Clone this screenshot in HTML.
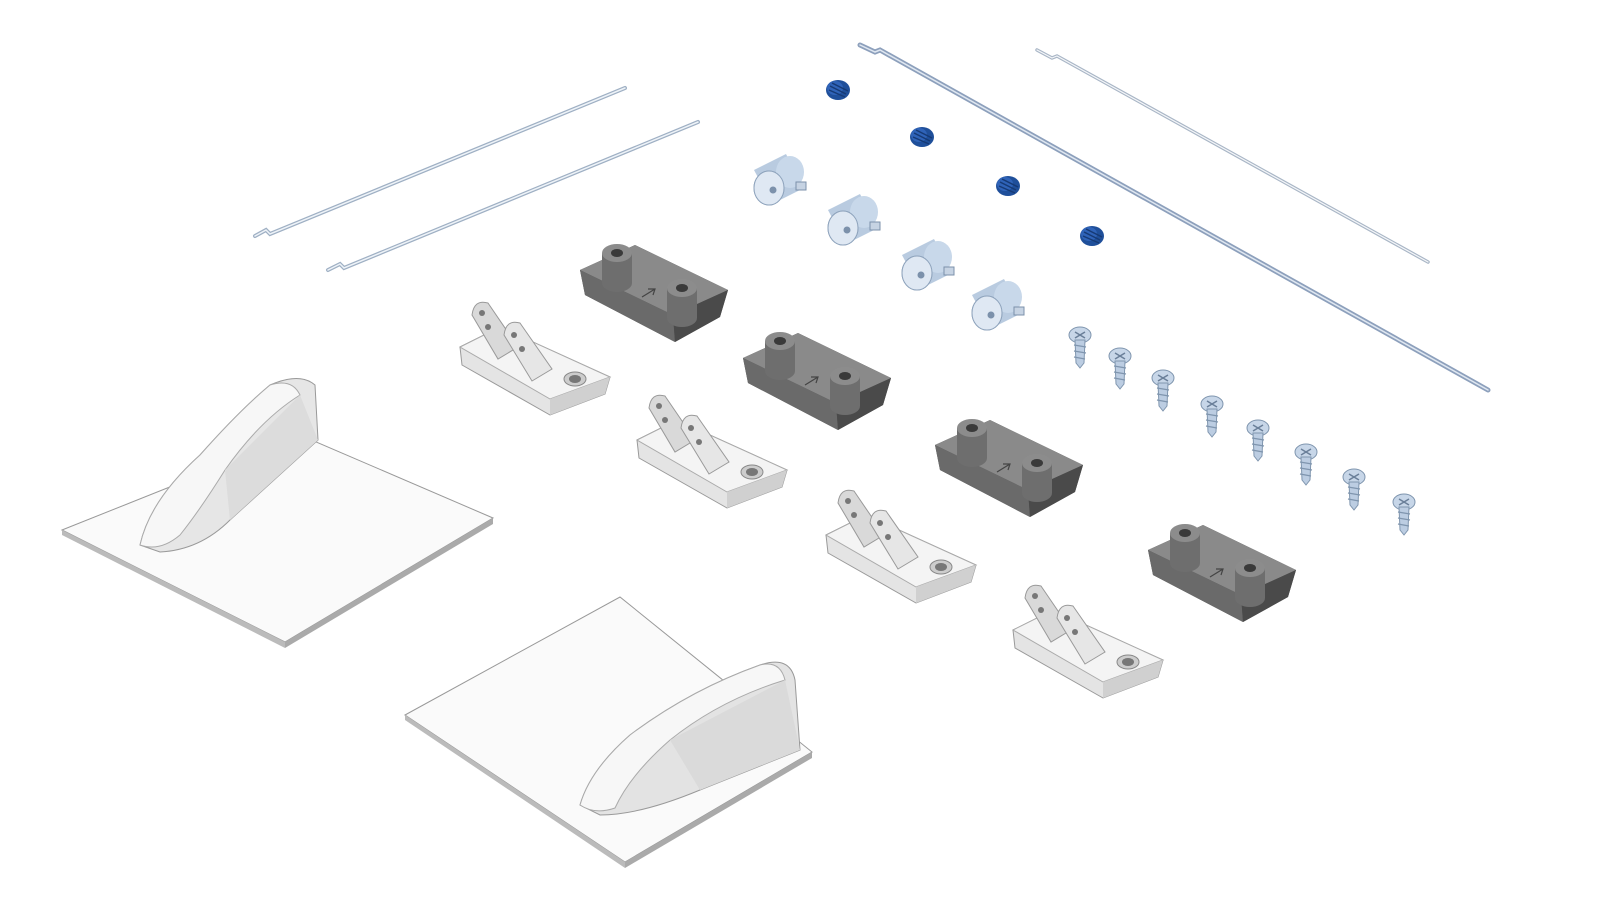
<!DOCTYPE html>
<html><head><meta charset="utf-8"><style>
html,body{margin:0;padding:0;background:#fff;}
svg{display:block}
</style></head><body>
<svg width="1600" height="900" viewBox="0 0 1600 900" xmlns="http://www.w3.org/2000/svg">
<defs>
<g id="setscrew">
  <ellipse cx="0" cy="0" rx="12" ry="10" fill="#1f4f9a"/>
  <ellipse cx="-3" cy="-2" rx="8" ry="7" fill="#2f63b8"/>
  <path d="M-8,-4 L8,4 M-9,0 L7,7 M-6,-7 L10,1" stroke="#163a75" stroke-width="1.5"/>
</g>
<g id="collar">
  <path d="M-24,-10 L8,-26 L26,8 L-6,24 Z" fill="#b9cbe0"/>
  <ellipse cx="-9" cy="8" rx="15" ry="17" fill="#d7e3f0" stroke="#8aa0ba" stroke-width="1"/>
  <ellipse cx="12" cy="-8" rx="14" ry="16" fill="#c8d8ea"/>
  <ellipse cx="-9" cy="8" rx="15" ry="17" fill="#dfe8f3" stroke="#8ea3bc" stroke-width="1"/>
  <circle cx="-5" cy="10" r="3.5" fill="#7c91ab"/>
  <rect x="18" y="2" width="10" height="8" fill="#c6d3e3" stroke="#7c91ab" stroke-width="1"/>
</g>
<g id="base">
  <path d="M0,25 L55,0 L148,45 L140,72 L95,97 L5,50 Z" fill="#555"/>
  <path d="M0,25 L55,0 L148,45 L93,70 Z" fill="#8a8a8a"/>
  <path d="M0,25 L93,70 L95,97 L5,50 Z" fill="#6a6a6a"/>
  <path d="M93,70 L148,45 L140,72 L95,97 Z" fill="#4a4a4a"/>
  <rect x="22" y="8" width="30" height="30" fill="#6e6e6e"/>
  <ellipse cx="37" cy="38" rx="15" ry="9" fill="#6e6e6e"/>
  <ellipse cx="37" cy="8" rx="15" ry="9" fill="#8c8c8c"/>
  <ellipse cx="37" cy="8" rx="6" ry="4" fill="#3a3a3a"/>
  <rect x="87" y="43" width="30" height="30" fill="#6e6e6e"/>
  <ellipse cx="102" cy="73" rx="15" ry="9" fill="#6e6e6e"/>
  <ellipse cx="102" cy="43" rx="15" ry="9" fill="#8c8c8c"/>
  <ellipse cx="102" cy="43" rx="6" ry="4" fill="#3a3a3a"/>
  <path d="M62,52 L75,44 M68,44 L75,44 L73,50" stroke="#444" stroke-width="1.2" fill="none"/>
</g>
<g id="horn">
  <path d="M0,50 L40,30 L150,80 L145,97 L90,118 L2,68 Z" fill="#e4e4e4" stroke="#999" stroke-width="1"/>
  <path d="M0,50 L40,30 L150,80 L90,102 Z" fill="#f4f4f4" stroke="#aaa" stroke-width="1"/>
  <path d="M90,102 L150,80 L145,97 L90,118 Z" fill="#d0d0d0"/>
  <ellipse cx="115" cy="82" rx="11" ry="7" fill="#ccc" stroke="#888"/>
  <ellipse cx="115" cy="82" rx="6" ry="4" fill="#777"/>
  <path d="M12,18 Q14,2 28,6 L58,50 L38,62 Z" fill="#d9d9d9" stroke="#999"/>
  <circle cx="22" cy="16" r="3" fill="#777"/><circle cx="28" cy="30" r="3" fill="#777"/>
  <path d="M44,38 Q46,22 60,26 L92,72 L72,84 Z" fill="#e6e6e6" stroke="#999"/>
  <circle cx="54" cy="38" r="3" fill="#777"/><circle cx="62" cy="52" r="3" fill="#777"/>
</g>
<g id="screw">
  <ellipse cx="0" cy="0" rx="11" ry="8" fill="#c7d6e8" stroke="#7f95ae"/>
  <path d="M-5,-3 L5,3 M-5,3 L5,-3" stroke="#6a7f99" stroke-width="1.5"/>
  <path d="M-5,5 L5,5 L4,28 L0,33 L-4,28 Z" fill="#bccde2" stroke="#7f95ae" stroke-width="1"/>
  <path d="M-6,10 L6,12 M-6,16 L6,18 M-6,22 L5,24" stroke="#7f95ae" stroke-width="1.2"/>
</g>
</defs>
<!-- rods -->
<g stroke-linecap="round" fill="none">
<path d="M255,236 L266,230 L270,234 L625,88" stroke="#9fb0c4" stroke-width="4"/>
<path d="M255,236 L266,230 L270,234 L625,88" stroke="#eef3f8" stroke-width="1.5"/>
<path d="M328,270 L340,264 L344,268 L698,122" stroke="#9fb0c4" stroke-width="4"/>
<path d="M328,270 L340,264 L344,268 L698,122" stroke="#eef3f8" stroke-width="1.5"/>
<path d="M860,45 L875,52 L880,50 L1488,390" stroke="#8da0bc" stroke-width="5"/>
<path d="M860,45 L875,52 L880,50 L1488,390" stroke="#dfe7f1" stroke-width="1.5"/>
<path d="M1037,50 L1052,58 L1057,56 L1428,262" stroke="#a9b6c6" stroke-width="3.5"/>
<path d="M1037,50 L1052,58 L1057,56 L1428,262" stroke="#f4f6f9" stroke-width="1.2"/>
</g>
<use href="#setscrew" x="838" y="90"/>
<use href="#setscrew" x="922" y="137"/>
<use href="#setscrew" x="1008" y="186"/>
<use href="#setscrew" x="1092" y="236"/>
<use href="#collar" x="778" y="180"/>
<use href="#collar" x="852" y="220"/>
<use href="#collar" x="926" y="265"/>
<use href="#collar" x="996" y="305"/>
<use href="#base" x="580" y="245"/>
<use href="#base" x="743" y="333"/>
<use href="#base" x="935" y="420"/>
<use href="#base" x="1148" y="525"/>
<use href="#horn" x="460" y="297"/>
<use href="#horn" x="637" y="390"/>
<use href="#horn" x="826" y="485"/>
<use href="#horn" x="1013" y="580"/>
<use href="#screw" x="1080" y="335"/>
<use href="#screw" x="1120" y="356"/>
<use href="#screw" x="1163" y="378"/>
<use href="#screw" x="1212" y="404"/>
<use href="#screw" x="1258" y="428"/>
<use href="#screw" x="1306" y="452"/>
<use href="#screw" x="1354" y="477"/>
<use href="#screw" x="1404" y="502"/>
<!-- hatch 1 -->
<path d="M62,530 L300,435 L493,518 L285,642 Z" fill="#fafafa" stroke="#999" stroke-width="1"/>
<path d="M62,530 L285,642 L285,648 L62,535 Z" fill="#bbb"/>
<path d="M285,642 L493,518 L493,524 L285,648 Z" fill="#aaa"/>
<path d="M140,545 Q150,500 200,455 Q240,410 270,385 Q300,372 315,385 L318,440 L230,520 Q200,550 160,552 Z" fill="#e6e6e6" stroke="#999"/>
<path d="M140,545 Q150,500 200,455 Q240,410 270,385 Q292,378 300,395 Q260,420 225,470 Q200,510 180,535 Q160,552 140,545 Z" fill="#f7f7f7" stroke="#aaa"/>
<path d="M300,395 L318,440 L230,520 L225,470 Z" fill="#dcdcdc"/>
<!-- hatch 2 -->
<path d="M405,715 L620,597 L812,752 L625,862 Z" fill="#fafafa" stroke="#999" stroke-width="1"/>
<path d="M405,715 L625,862 L625,868 L405,720 Z" fill="#bbb"/>
<path d="M625,862 L812,752 L812,758 L625,868 Z" fill="#aaa"/>
<path d="M580,805 Q590,770 630,735 Q690,690 760,665 Q790,655 795,680 L800,750 L700,790 Q640,815 600,815 Z" fill="#e3e3e3" stroke="#999"/>
<path d="M580,805 Q590,770 630,735 Q690,690 760,665 Q780,660 785,680 Q720,700 670,740 Q630,775 615,808 Q595,815 580,805 Z" fill="#f7f7f7" stroke="#aaa"/>
<path d="M785,680 L800,750 L700,790 L670,740 Z" fill="#dadada"/>
</svg>
</body></html>
